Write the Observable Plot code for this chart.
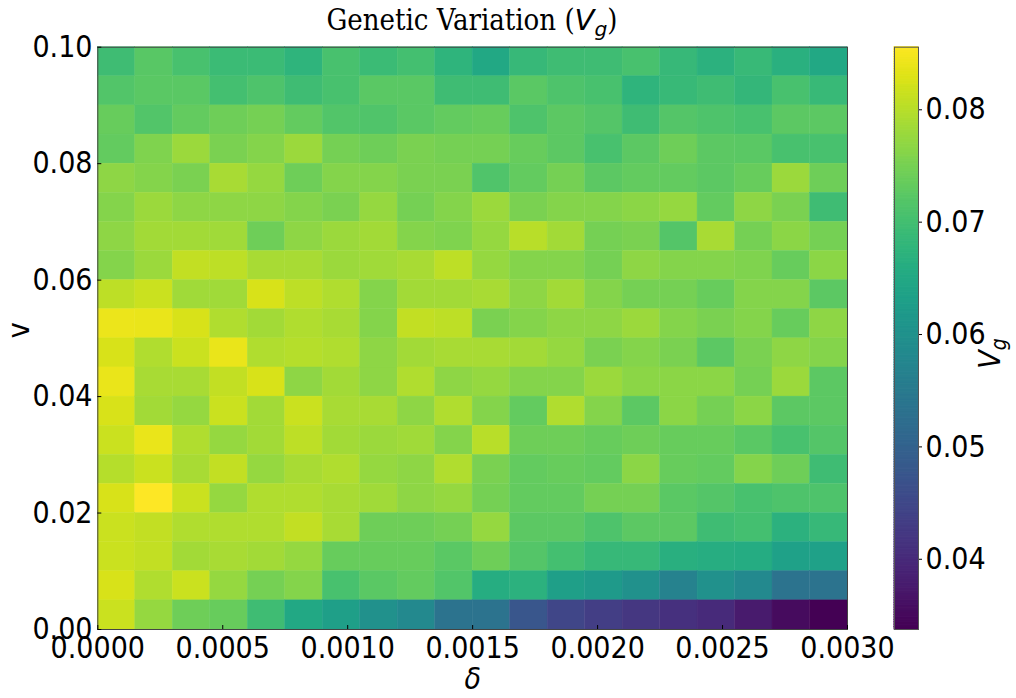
<!DOCTYPE html>
<html><head><meta charset="utf-8">
<script src="https://cdn.jsdelivr.net/npm/d3@7"></script>
<script src="https://cdn.jsdelivr.net/npm/@observablehq/plot@0.6"></script>
<style>
body{margin:0;background:#fff;}
#wrap{position:relative;width:1016px;height:698px;overflow:hidden;background:#fff;}
#title{position:absolute;left:0;top:0;width:944px;text-align:center;font-family:"DejaVu Serif Condensed","DejaVu Serif",serif;font-stretch:condensed;font-size:29px;line-height:40px;padding-top:0px;color:#000;white-space:nowrap;}
#title i{font-family:"DejaVu Sans",sans-serif;font-style:italic;font-stretch:normal;}
#title sub{font-size:0.7em;vertical-align:-0.3em;line-height:0;}
#layer{position:absolute;left:0;top:40px;width:1016px;height:658px;}
#layer svg{position:absolute;left:0;top:0;}
</style></head>
<body>
<div id="wrap"><div id="title">Genetic Variation (<i>V<sub>g</sub></i>)</div><div id="layer"></div></div>
<script>
// column lower edges (δ) and row lower edges (v, top row first)
const delta = [0, 0.00015, 0.0003, 0.00045, 0.0006, 0.00075, 0.0009, 0.00105, 0.0012, 0.00135,
               0.0015, 0.00165, 0.0018, 0.00195, 0.0021, 0.00225, 0.0024, 0.00255, 0.0027, 0.00285];
const nu = [0.095, 0.09, 0.085, 0.08, 0.075, 0.07, 0.065, 0.06, 0.055, 0.05,
            0.045, 0.04, 0.035, 0.03, 0.025, 0.02, 0.015, 0.01, 0.005, 0];
const deltaStep = 0.00015;
const nuStep = 0.005;
// V_g values, one row per v (top row first), one column per δ
const vg = [
 [0.0695,0.0721,0.0705,0.0690,0.0690,0.0674,0.0705,0.0690,0.0700,0.0674,0.0648,0.0685,0.0695,0.0695,0.0705,0.0685,0.0669,0.0687,0.0667,0.0648],
 [0.0716,0.0724,0.0724,0.0700,0.0711,0.0695,0.0705,0.0724,0.0724,0.0695,0.0695,0.0724,0.0711,0.0705,0.0674,0.0687,0.0695,0.0680,0.0705,0.0687],
 [0.0736,0.0716,0.0731,0.0742,0.0747,0.0731,0.0716,0.0713,0.0724,0.0731,0.0736,0.0711,0.0726,0.0718,0.0695,0.0718,0.0711,0.0705,0.0726,0.0726],
 [0.0731,0.0755,0.0778,0.0752,0.0760,0.0778,0.0747,0.0742,0.0752,0.0747,0.0747,0.0736,0.0726,0.0705,0.0726,0.0742,0.0726,0.0724,0.0705,0.0705],
 [0.0768,0.0760,0.0752,0.0788,0.0773,0.0742,0.0760,0.0760,0.0752,0.0752,0.0713,0.0731,0.0747,0.0726,0.0731,0.0731,0.0726,0.0736,0.0778,0.0742],
 [0.0760,0.0778,0.0768,0.0768,0.0768,0.0760,0.0752,0.0773,0.0747,0.0760,0.0778,0.0752,0.0760,0.0760,0.0765,0.0773,0.0731,0.0768,0.0752,0.0695],
 [0.0768,0.0783,0.0783,0.0781,0.0742,0.0768,0.0778,0.0783,0.0760,0.0755,0.0773,0.0801,0.0783,0.0747,0.0752,0.0718,0.0788,0.0747,0.0765,0.0747],
 [0.0760,0.0778,0.0809,0.0804,0.0788,0.0788,0.0778,0.0781,0.0788,0.0804,0.0773,0.0760,0.0760,0.0747,0.0768,0.0760,0.0760,0.0755,0.0736,0.0765],
 [0.0804,0.0814,0.0781,0.0781,0.0825,0.0804,0.0794,0.0760,0.0783,0.0783,0.0788,0.0768,0.0783,0.0760,0.0747,0.0747,0.0736,0.0760,0.0760,0.0726],
 [0.0840,0.0838,0.0825,0.0794,0.0783,0.0794,0.0788,0.0760,0.0809,0.0804,0.0752,0.0760,0.0768,0.0768,0.0778,0.0760,0.0752,0.0760,0.0736,0.0768],
 [0.0825,0.0794,0.0814,0.0838,0.0794,0.0799,0.0794,0.0768,0.0783,0.0788,0.0788,0.0783,0.0773,0.0752,0.0760,0.0752,0.0726,0.0752,0.0768,0.0760],
 [0.0838,0.0788,0.0788,0.0809,0.0825,0.0768,0.0783,0.0768,0.0794,0.0768,0.0773,0.0760,0.0760,0.0778,0.0765,0.0765,0.0765,0.0747,0.0778,0.0726],
 [0.0825,0.0783,0.0773,0.0814,0.0783,0.0814,0.0788,0.0788,0.0768,0.0794,0.0760,0.0731,0.0794,0.0760,0.0726,0.0765,0.0747,0.0765,0.0726,0.0726],
 [0.0814,0.0838,0.0794,0.0773,0.0783,0.0804,0.0783,0.0778,0.0781,0.0760,0.0801,0.0742,0.0742,0.0736,0.0742,0.0736,0.0736,0.0724,0.0705,0.0718],
 [0.0799,0.0814,0.0788,0.0809,0.0773,0.0788,0.0794,0.0773,0.0768,0.0794,0.0752,0.0731,0.0736,0.0731,0.0765,0.0736,0.0731,0.0760,0.0742,0.0695],
 [0.0825,0.0856,0.0814,0.0773,0.0794,0.0794,0.0788,0.0781,0.0768,0.0773,0.0747,0.0731,0.0731,0.0747,0.0747,0.0724,0.0718,0.0705,0.0711,0.0711],
 [0.0814,0.0809,0.0794,0.0794,0.0794,0.0809,0.0788,0.0742,0.0742,0.0747,0.0773,0.0726,0.0726,0.0711,0.0726,0.0726,0.0695,0.0700,0.0669,0.0685],
 [0.0814,0.0809,0.0783,0.0788,0.0783,0.0773,0.0736,0.0736,0.0736,0.0724,0.0742,0.0718,0.0700,0.0685,0.0685,0.0664,0.0661,0.0656,0.0633,0.0633],
 [0.0825,0.0794,0.0814,0.0773,0.0747,0.0760,0.0705,0.0724,0.0731,0.0716,0.0659,0.0669,0.0628,0.0617,0.0597,0.0565,0.0597,0.0581,0.0534,0.0534],
 [0.0814,0.0773,0.0742,0.0736,0.0695,0.0648,0.0628,0.0597,0.0581,0.0534,0.0534,0.0477,0.0446,0.0431,0.0420,0.0410,0.0400,0.0374,0.0353,0.0338]
];
const xTicks = [0, 0.0005, 0.001, 0.0015, 0.002, 0.0025, 0.003];
const yTicks = [0, 0.02, 0.04, 0.06, 0.08, 0.1];
const cTicks = [0.04, 0.05, 0.06, 0.07, 0.08];
const cDomain = [0.03375, 0.08557];

const cells = [];
nu.forEach((n, i) => delta.forEach((d, j) => cells.push({d, n, v: vg[i][j]})));

const font = '"DejaVu Sans Condensed","DejaVu Sans",sans-serif';
const colorOpt = {type: "linear", scheme: "viridis", domain: cDomain};

const main = Plot.plot({
  width: 1016, height: 658,
  marginTop: 6.7, marginBottom: 69, marginLeft: 97.3, marginRight: 169,
  x: {domain: [0, 0.003]},
  y: {domain: [0, 0.1]},
  color: colorOpt,
  style: {fontFamily: font, fontStretch: "condensed", background: "white", color: "black", overflow: "visible"},
  marks: [
    Plot.rect(cells, {x1: "d", x2: c => c.d + deltaStep, y1: "n", y2: c => c.n + nuStep, fill: "v", stroke: "v", strokeWidth: 0.4}),
    Plot.frame({stroke: "#444", strokeWidth: 1}),
    Plot.axisX({ticks: xTicks, tickFormat: d3.format(".4f"), tickSize: -4, tickPadding: 11, fontSize: 30, label: null}),
    Plot.axisY({ticks: yTicks, tickFormat: d3.format(".2f"), tickSize: -4, tickPadding: 9.3, fontSize: 30, label: null}),
    Plot.text(["δ"], {frameAnchor: "bottom", dy: 59, fontStyle: "italic", fontSize: 30, fontFamily: "DejaVu Sans"}),
    Plot.text(["v"], {frameAnchor: "left", dx: -78, rotate: -90, fontSize: 30, fontFamily: "DejaVu Sans"})
  ]
});

const rampN = 240;
const rampStep = (cDomain[1] - cDomain[0]) / rampN;
const ramp = d3.range(rampN).map(i => cDomain[0] + i * rampStep);

const bar = Plot.plot({
  width: 1016, height: 658,
  marginTop: 6.7, marginBottom: 69, marginLeft: 894, marginRight: 98,
  y: {domain: cDomain},
  color: colorOpt,
  style: {fontFamily: font, fontStretch: "condensed", background: "transparent", color: "black", overflow: "visible"},
  marks: [
    Plot.rect(ramp, {y1: d => d, y2: d => Math.min(d + rampStep, cDomain[1]), fill: d => d, stroke: d => d, strokeWidth: 1}),
    Plot.frame({stroke: "#555", strokeWidth: 1}),
    Plot.axisY({anchor: "right", ticks: cTicks, tickFormat: d3.format(".2f"), tickSize: 3, tickPadding: 4, fontSize: 30, label: null}),
    Plot.text(["V"], {frameAnchor: "right", dx: 72, rotate: -90, fontStyle: "italic", fontSize: 30, fontFamily: "DejaVu Sans"})
  ]
});

d3.select(bar).selectAll("text").filter(function() { return this.textContent === "V"; })
  .append("tspan").attr("font-size", 21).attr("dy", "0.3em").text("g");

const layer = document.getElementById("layer");
layer.appendChild(main);
layer.appendChild(bar);
</script>
</body></html>
